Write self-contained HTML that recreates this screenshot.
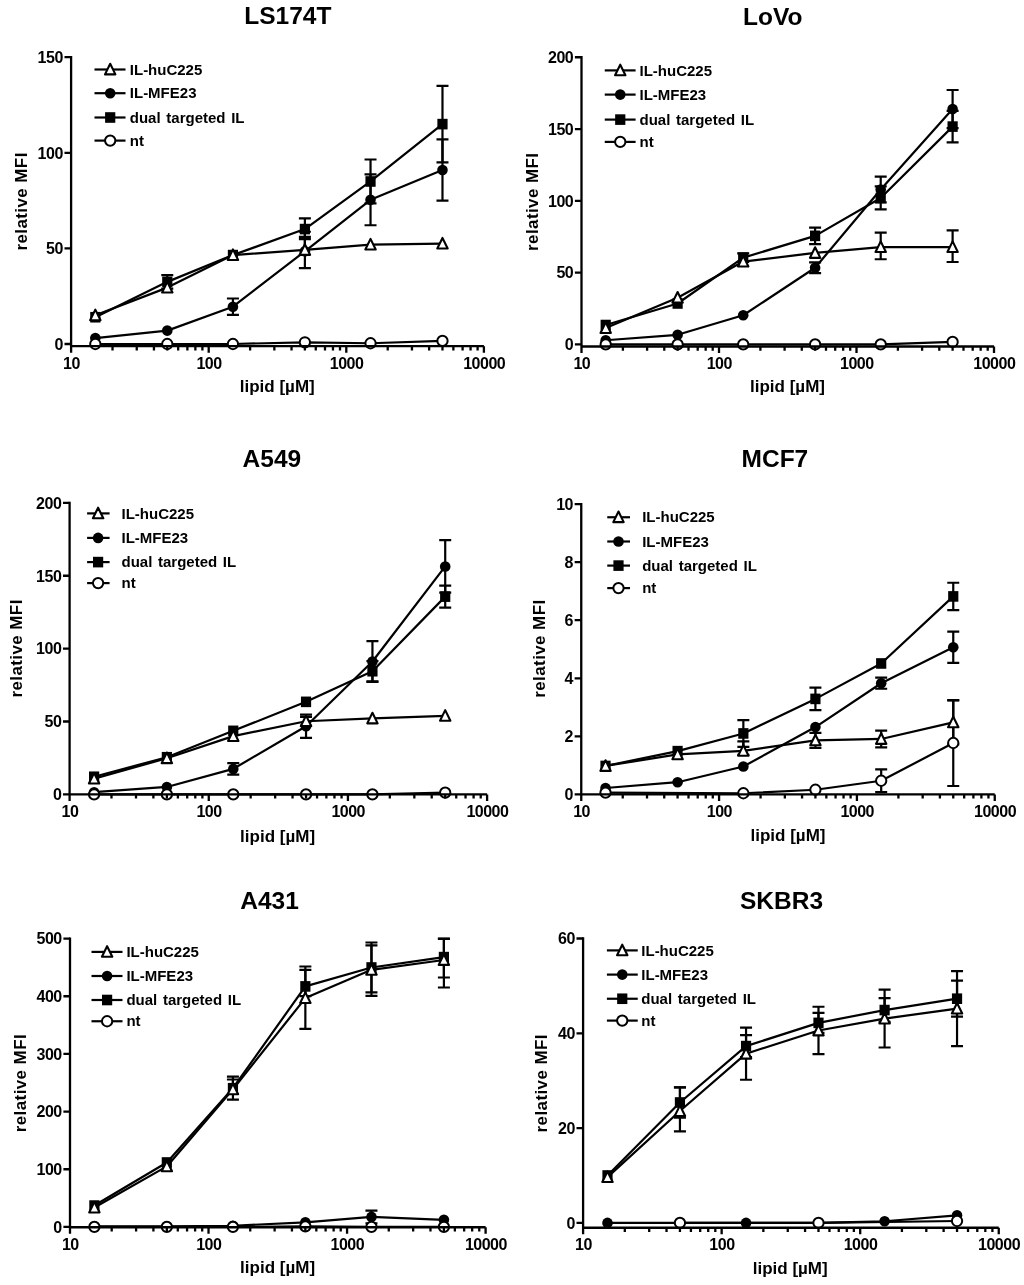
<!DOCTYPE html>
<html><head><meta charset="utf-8"><style>html,body{margin:0;padding:0;background:#fff;}svg{display:block;filter:grayscale(1);}</style></head>
<body><svg width="1024" height="1285" viewBox="0 0 1024 1285">
<rect width="1024" height="1285" fill="#fff"/>
<path d="M95.33,317.23 L167.28,281.86 L232.93,255.09 L304.88,229.09 L370.53,181.48 L442.48,124.12" fill="none" stroke="#000" stroke-width="2.2" stroke-linejoin="round"/>
<path d="M95.33,338.07 L167.28,330.62 L232.93,306.72 L304.88,251.27 L370.53,199.84 L442.48,170.01" fill="none" stroke="#000" stroke-width="2.2" stroke-linejoin="round"/>
<path d="M95.33,315.32 L167.28,287.60 L232.93,255.09 L304.88,249.93 L370.53,244.58 L442.48,243.62" fill="none" stroke="#000" stroke-width="2.2" stroke-linejoin="round"/>
<path d="M95.33,344.00 L167.28,344.00 L232.93,344.00 L304.88,342.28 L370.53,343.24 L442.48,340.94" fill="none" stroke="#000" stroke-width="2.2" stroke-linejoin="round"/>
<path d="M167.28,275.17 L167.28,288.55 M161.28,275.17 L173.28,275.17 M161.28,288.55 L173.28,288.55" fill="none" stroke="#000" stroke-width="2.2"/>
<path d="M232.93,253.18 L232.93,257.00" fill="none" stroke="#000" stroke-width="2.2"/>
<path d="M304.88,218.38 L304.88,239.22 M298.88,218.38 L310.88,218.38 M298.88,239.22 L310.88,239.22" fill="none" stroke="#000" stroke-width="2.2"/>
<path d="M370.53,159.49 L370.53,203.47 M364.53,159.49 L376.53,159.49 M364.53,203.47 L376.53,203.47" fill="none" stroke="#000" stroke-width="2.2"/>
<path d="M442.48,85.88 L442.48,162.36 M436.48,85.88 L448.48,85.88 M436.48,162.36 L448.48,162.36" fill="none" stroke="#000" stroke-width="2.2"/>
<path d="M167.28,329.66 L167.28,331.57" fill="none" stroke="#000" stroke-width="2.2"/>
<path d="M232.93,298.49 L232.93,314.94 M226.93,298.49 L238.93,298.49 M226.93,314.94 L238.93,314.94" fill="none" stroke="#000" stroke-width="2.2"/>
<path d="M304.88,236.93 L304.88,255.09 M298.88,236.93 L310.88,236.93" fill="none" stroke="#000" stroke-width="2.2"/>
<path d="M370.53,174.41 L370.53,225.26 M364.53,174.41 L376.53,174.41 M364.53,225.26 L376.53,225.26" fill="none" stroke="#000" stroke-width="2.2"/>
<path d="M442.48,139.42 L442.48,200.60 M436.48,139.42 L448.48,139.42 M436.48,200.60 L448.48,200.60" fill="none" stroke="#000" stroke-width="2.2"/>
<path d="M167.28,284.73 L167.28,290.46" fill="none" stroke="#000" stroke-width="2.2"/>
<path d="M232.93,253.18 L232.93,257.00" fill="none" stroke="#000" stroke-width="2.2"/>
<path d="M304.88,231.77 L304.88,268.09 M298.88,231.77 L310.88,231.77 M298.88,268.09 L310.88,268.09" fill="none" stroke="#000" stroke-width="2.2"/>
<path d="M370.53,242.66 L370.53,246.49" fill="none" stroke="#000" stroke-width="2.2"/>
<path d="M442.48,241.71 L442.48,245.53" fill="none" stroke="#000" stroke-width="2.2"/>
<rect x="90.23" y="311.93" width="10.2" height="10.6" fill="#000"/>
<rect x="162.18" y="276.56" width="10.2" height="10.6" fill="#000"/>
<rect x="227.83" y="249.79" width="10.2" height="10.6" fill="#000"/>
<rect x="299.78" y="223.79" width="10.2" height="10.6" fill="#000"/>
<rect x="365.43" y="176.18" width="10.2" height="10.6" fill="#000"/>
<rect x="437.38" y="118.82" width="10.2" height="10.6" fill="#000"/>
<circle cx="95.33" cy="338.07" r="5.3" fill="#000"/>
<circle cx="167.28" cy="330.62" r="5.3" fill="#000"/>
<circle cx="232.93" cy="306.72" r="5.3" fill="#000"/>
<circle cx="304.88" cy="251.27" r="5.3" fill="#000"/>
<circle cx="370.53" cy="199.84" r="5.3" fill="#000"/>
<circle cx="442.48" cy="170.01" r="5.3" fill="#000"/>
<path d="M95.33,309.62 L100.53,320.22 L90.13,320.22 Z" fill="#fff" stroke="#000" stroke-width="2.1" stroke-linejoin="round"/>
<path d="M167.28,281.90 L172.48,292.50 L162.08,292.50 Z" fill="#fff" stroke="#000" stroke-width="2.1" stroke-linejoin="round"/>
<path d="M232.93,249.39 L238.13,259.99 L227.73,259.99 Z" fill="#fff" stroke="#000" stroke-width="2.1" stroke-linejoin="round"/>
<path d="M304.88,244.23 L310.08,254.83 L299.68,254.83 Z" fill="#fff" stroke="#000" stroke-width="2.1" stroke-linejoin="round"/>
<path d="M370.53,238.88 L375.73,249.48 L365.33,249.48 Z" fill="#fff" stroke="#000" stroke-width="2.1" stroke-linejoin="round"/>
<path d="M442.48,237.92 L447.68,248.52 L437.28,248.52 Z" fill="#fff" stroke="#000" stroke-width="2.1" stroke-linejoin="round"/>
<circle cx="95.33" cy="344.00" r="5.15" fill="#fff" stroke="#000" stroke-width="2"/>
<circle cx="167.28" cy="344.00" r="5.15" fill="#fff" stroke="#000" stroke-width="2"/>
<circle cx="232.93" cy="344.00" r="5.15" fill="#fff" stroke="#000" stroke-width="2"/>
<circle cx="304.88" cy="342.28" r="5.15" fill="#fff" stroke="#000" stroke-width="2"/>
<circle cx="370.53" cy="343.24" r="5.15" fill="#fff" stroke="#000" stroke-width="2"/>
<circle cx="442.48" cy="340.94" r="5.15" fill="#fff" stroke="#000" stroke-width="2"/>
<path d="M71.10,56.05 L71.10,352.70" stroke="#000" stroke-width="2.3" fill="none"/>
<path d="M71.10,346.20 L483.90,346.20" stroke="#000" stroke-width="2.3" fill="none"/>
<path d="M112.52,346.20 L112.52,350.40 M136.75,346.20 L136.75,350.40 M153.94,346.20 L153.94,350.40 M167.28,346.20 L167.28,350.40 M178.17,346.20 L178.17,350.40 M187.39,346.20 L187.39,350.40 M195.37,346.20 L195.37,350.40 M202.40,346.20 L202.40,350.40 M250.12,346.20 L250.12,350.40 M274.35,346.20 L274.35,350.40 M291.54,346.20 L291.54,350.40 M304.88,346.20 L304.88,350.40 M315.77,346.20 L315.77,350.40 M324.99,346.20 L324.99,350.40 M332.97,346.20 L332.97,350.40 M340.00,346.20 L340.00,350.40 M387.72,346.20 L387.72,350.40 M411.95,346.20 L411.95,350.40 M429.14,346.20 L429.14,350.40 M442.48,346.20 L442.48,350.40 M453.37,346.20 L453.37,350.40 M462.59,346.20 L462.59,350.40 M470.57,346.20 L470.57,350.40 M477.60,346.20 L477.60,350.40 M208.70,346.20 L208.70,352.70 M346.30,346.20 L346.30,352.70 M483.90,346.20 L483.90,352.70" stroke="#000" stroke-width="2.3" fill="none"/>
<path d="M64.50,344.00 L71.10,344.00 M64.50,248.40 L71.10,248.40 M64.50,152.80 L71.10,152.80 M64.50,57.20 L71.10,57.20" stroke="#000" stroke-width="2.3" fill="none"/>
<text x="62.80" y="349.80" font-family="Liberation Sans, sans-serif" font-weight="bold" font-size="16" letter-spacing="-0.5" text-anchor="end">0</text>
<text x="62.80" y="254.20" font-family="Liberation Sans, sans-serif" font-weight="bold" font-size="16" letter-spacing="-0.5" text-anchor="end">50</text>
<text x="62.80" y="158.60" font-family="Liberation Sans, sans-serif" font-weight="bold" font-size="16" letter-spacing="-0.5" text-anchor="end">100</text>
<text x="62.80" y="63.00" font-family="Liberation Sans, sans-serif" font-weight="bold" font-size="16" letter-spacing="-0.5" text-anchor="end">150</text>
<text x="71.40" y="368.60" font-family="Liberation Sans, sans-serif" font-weight="bold" font-size="16" letter-spacing="-0.5" text-anchor="middle">10</text>
<text x="209.00" y="368.60" font-family="Liberation Sans, sans-serif" font-weight="bold" font-size="16" letter-spacing="-0.5" text-anchor="middle">100</text>
<text x="346.60" y="368.60" font-family="Liberation Sans, sans-serif" font-weight="bold" font-size="16" letter-spacing="-0.5" text-anchor="middle">1000</text>
<text x="484.20" y="368.60" font-family="Liberation Sans, sans-serif" font-weight="bold" font-size="16" letter-spacing="-0.5" text-anchor="middle">10000</text>
<text x="287.80" y="24.40" font-family="Liberation Sans, sans-serif" font-weight="bold" font-size="24.5" text-anchor="middle">LS174T</text>
<text transform="translate(27.40,201.40) rotate(-90)" x="0" y="0" font-family="Liberation Sans, sans-serif" font-weight="bold" font-size="17" letter-spacing="0.4" text-anchor="middle">relative MFI</text>
<text x="277.25" y="392.00" font-family="Liberation Sans, sans-serif" font-weight="bold" font-size="17" text-anchor="middle">lipid [µM]</text>
<path d="M94.50,69.50 L125.50,69.50" stroke="#000" stroke-width="2.2"/>
<path d="M110.20,63.80 L115.40,74.40 L105.00,74.40 Z" fill="#fff" stroke="#000" stroke-width="2.1" stroke-linejoin="round"/>
<text x="129.80" y="74.70" font-family="Liberation Sans, sans-serif" font-weight="bold" font-size="15" word-spacing="1.5">IL-huC225</text>
<path d="M94.50,93.20 L125.50,93.20" stroke="#000" stroke-width="2.2"/>
<circle cx="110.20" cy="93.20" r="5.3" fill="#000"/>
<text x="129.80" y="98.40" font-family="Liberation Sans, sans-serif" font-weight="bold" font-size="15" word-spacing="1.5">IL-MFE23</text>
<path d="M94.50,117.50 L125.50,117.50" stroke="#000" stroke-width="2.2"/>
<rect x="105.10" y="112.20" width="10.2" height="10.6" fill="#000"/>
<text x="129.80" y="122.70" font-family="Liberation Sans, sans-serif" font-weight="bold" font-size="15" word-spacing="1.5">dual targeted IL</text>
<path d="M94.50,140.60 L125.50,140.60" stroke="#000" stroke-width="2.2"/>
<circle cx="110.20" cy="140.60" r="5.15" fill="#fff" stroke="#000" stroke-width="2"/>
<text x="129.80" y="145.80" font-family="Liberation Sans, sans-serif" font-weight="bold" font-size="15" word-spacing="1.5">nt</text>
<path d="M605.71,325.02 L677.61,303.48 L743.21,257.68 L815.11,235.86 L880.71,197.95 L952.61,126.60" fill="none" stroke="#000" stroke-width="2.2" stroke-linejoin="round"/>
<path d="M605.71,340.24 L677.61,334.78 L743.21,315.25 L815.11,267.73 L880.71,189.48 L952.61,109.08" fill="none" stroke="#000" stroke-width="2.2" stroke-linejoin="round"/>
<path d="M605.71,328.03 L677.61,297.74 L743.21,261.56 L815.11,252.94 L880.71,247.06 L952.61,247.06" fill="none" stroke="#000" stroke-width="2.2" stroke-linejoin="round"/>
<path d="M605.71,344.40 L677.61,344.40 L743.21,344.40 L815.11,344.40 L880.71,344.40 L952.61,341.96" fill="none" stroke="#000" stroke-width="2.2" stroke-linejoin="round"/>
<path d="M605.71,323.58 L605.71,326.45" fill="none" stroke="#000" stroke-width="2.2"/>
<path d="M677.61,302.05 L677.61,304.92" fill="none" stroke="#000" stroke-width="2.2"/>
<path d="M743.21,253.37 L743.21,261.99 M737.21,253.37 L749.21,253.37 M737.21,261.99 L749.21,261.99" fill="none" stroke="#000" stroke-width="2.2"/>
<path d="M815.11,227.53 L815.11,244.18 M809.11,227.53 L821.11,227.53 M809.11,244.18 L821.11,244.18" fill="none" stroke="#000" stroke-width="2.2"/>
<path d="M880.71,186.47 L880.71,209.44 M874.71,186.47 L886.71,186.47 M874.71,209.44 L886.71,209.44" fill="none" stroke="#000" stroke-width="2.2"/>
<path d="M952.61,110.80 L952.61,142.39 M946.61,110.80 L958.61,110.80 M946.61,142.39 L958.61,142.39" fill="none" stroke="#000" stroke-width="2.2"/>
<path d="M743.21,313.82 L743.21,316.69" fill="none" stroke="#000" stroke-width="2.2"/>
<path d="M815.11,262.42 L815.11,273.04 M809.11,262.42 L821.11,262.42 M809.11,273.04 L821.11,273.04" fill="none" stroke="#000" stroke-width="2.2"/>
<path d="M880.71,176.56 L880.71,202.40 M874.71,176.56 L886.71,176.56 M874.71,202.40 L886.71,202.40" fill="none" stroke="#000" stroke-width="2.2"/>
<path d="M952.61,89.99 L952.61,128.18 M946.61,89.99 L958.61,89.99 M946.61,128.18 L958.61,128.18" fill="none" stroke="#000" stroke-width="2.2"/>
<path d="M677.61,295.58 L677.61,299.89" fill="none" stroke="#000" stroke-width="2.2"/>
<path d="M743.21,258.69 L743.21,264.43" fill="none" stroke="#000" stroke-width="2.2"/>
<path d="M880.71,232.56 L880.71,259.26 M874.71,232.56 L886.71,232.56 M874.71,259.26 L886.71,259.26" fill="none" stroke="#000" stroke-width="2.2"/>
<path d="M952.61,230.40 L952.61,261.99 M946.61,230.40 L958.61,230.40 M946.61,261.99 L958.61,261.99" fill="none" stroke="#000" stroke-width="2.2"/>
<rect x="600.61" y="319.72" width="10.2" height="10.6" fill="#000"/>
<rect x="672.51" y="298.18" width="10.2" height="10.6" fill="#000"/>
<rect x="738.11" y="252.38" width="10.2" height="10.6" fill="#000"/>
<rect x="810.01" y="230.56" width="10.2" height="10.6" fill="#000"/>
<rect x="875.61" y="192.65" width="10.2" height="10.6" fill="#000"/>
<rect x="947.51" y="121.30" width="10.2" height="10.6" fill="#000"/>
<circle cx="605.71" cy="340.24" r="5.3" fill="#000"/>
<circle cx="677.61" cy="334.78" r="5.3" fill="#000"/>
<circle cx="743.21" cy="315.25" r="5.3" fill="#000"/>
<circle cx="815.11" cy="267.73" r="5.3" fill="#000"/>
<circle cx="880.71" cy="189.48" r="5.3" fill="#000"/>
<circle cx="952.61" cy="109.08" r="5.3" fill="#000"/>
<path d="M605.71,322.33 L610.91,332.93 L600.51,332.93 Z" fill="#fff" stroke="#000" stroke-width="2.1" stroke-linejoin="round"/>
<path d="M677.61,292.04 L682.81,302.64 L672.41,302.64 Z" fill="#fff" stroke="#000" stroke-width="2.1" stroke-linejoin="round"/>
<path d="M743.21,255.86 L748.41,266.46 L738.01,266.46 Z" fill="#fff" stroke="#000" stroke-width="2.1" stroke-linejoin="round"/>
<path d="M815.11,247.24 L820.31,257.84 L809.91,257.84 Z" fill="#fff" stroke="#000" stroke-width="2.1" stroke-linejoin="round"/>
<path d="M880.71,241.36 L885.91,251.96 L875.51,251.96 Z" fill="#fff" stroke="#000" stroke-width="2.1" stroke-linejoin="round"/>
<path d="M952.61,241.36 L957.81,251.96 L947.41,251.96 Z" fill="#fff" stroke="#000" stroke-width="2.1" stroke-linejoin="round"/>
<circle cx="605.71" cy="344.40" r="5.15" fill="#fff" stroke="#000" stroke-width="2"/>
<circle cx="677.61" cy="344.40" r="5.15" fill="#fff" stroke="#000" stroke-width="2"/>
<circle cx="743.21" cy="344.40" r="5.15" fill="#fff" stroke="#000" stroke-width="2"/>
<circle cx="815.11" cy="344.40" r="5.15" fill="#fff" stroke="#000" stroke-width="2"/>
<circle cx="880.71" cy="344.40" r="5.15" fill="#fff" stroke="#000" stroke-width="2"/>
<circle cx="952.61" cy="341.96" r="5.15" fill="#fff" stroke="#000" stroke-width="2"/>
<path d="M581.50,56.10 L581.50,353.00" stroke="#000" stroke-width="2.3" fill="none"/>
<path d="M581.50,346.50 L994.00,346.50" stroke="#000" stroke-width="2.3" fill="none"/>
<path d="M622.89,346.50 L622.89,350.70 M647.10,346.50 L647.10,350.70 M664.28,346.50 L664.28,350.70 M677.61,346.50 L677.61,350.70 M688.50,346.50 L688.50,350.70 M697.70,346.50 L697.70,350.70 M705.67,346.50 L705.67,350.70 M712.71,346.50 L712.71,350.70 M760.39,346.50 L760.39,350.70 M784.60,346.50 L784.60,350.70 M801.78,346.50 L801.78,350.70 M815.11,346.50 L815.11,350.70 M826.00,346.50 L826.00,350.70 M835.20,346.50 L835.20,350.70 M843.17,346.50 L843.17,350.70 M850.21,346.50 L850.21,350.70 M897.89,346.50 L897.89,350.70 M922.10,346.50 L922.10,350.70 M939.28,346.50 L939.28,350.70 M952.61,346.50 L952.61,350.70 M963.50,346.50 L963.50,350.70 M972.70,346.50 L972.70,350.70 M980.67,346.50 L980.67,350.70 M987.71,346.50 L987.71,350.70 M719.00,346.50 L719.00,353.00 M856.50,346.50 L856.50,353.00 M994.00,346.50 L994.00,353.00" stroke="#000" stroke-width="2.3" fill="none"/>
<path d="M574.90,344.40 L581.50,344.40 M574.90,272.61 L581.50,272.61 M574.90,200.82 L581.50,200.82 M574.90,129.04 L581.50,129.04 M574.90,57.25 L581.50,57.25" stroke="#000" stroke-width="2.3" fill="none"/>
<text x="573.20" y="350.20" font-family="Liberation Sans, sans-serif" font-weight="bold" font-size="16" letter-spacing="-0.5" text-anchor="end">0</text>
<text x="573.20" y="278.41" font-family="Liberation Sans, sans-serif" font-weight="bold" font-size="16" letter-spacing="-0.5" text-anchor="end">50</text>
<text x="573.20" y="206.62" font-family="Liberation Sans, sans-serif" font-weight="bold" font-size="16" letter-spacing="-0.5" text-anchor="end">100</text>
<text x="573.20" y="134.84" font-family="Liberation Sans, sans-serif" font-weight="bold" font-size="16" letter-spacing="-0.5" text-anchor="end">150</text>
<text x="573.20" y="63.05" font-family="Liberation Sans, sans-serif" font-weight="bold" font-size="16" letter-spacing="-0.5" text-anchor="end">200</text>
<text x="581.80" y="368.90" font-family="Liberation Sans, sans-serif" font-weight="bold" font-size="16" letter-spacing="-0.5" text-anchor="middle">10</text>
<text x="719.30" y="368.90" font-family="Liberation Sans, sans-serif" font-weight="bold" font-size="16" letter-spacing="-0.5" text-anchor="middle">100</text>
<text x="856.80" y="368.90" font-family="Liberation Sans, sans-serif" font-weight="bold" font-size="16" letter-spacing="-0.5" text-anchor="middle">1000</text>
<text x="994.30" y="368.90" font-family="Liberation Sans, sans-serif" font-weight="bold" font-size="16" letter-spacing="-0.5" text-anchor="middle">10000</text>
<text x="772.75" y="24.80" font-family="Liberation Sans, sans-serif" font-weight="bold" font-size="24.5" text-anchor="middle">LoVo</text>
<text transform="translate(537.80,201.80) rotate(-90)" x="0" y="0" font-family="Liberation Sans, sans-serif" font-weight="bold" font-size="17" letter-spacing="0.4" text-anchor="middle">relative MFI</text>
<text x="787.50" y="392.00" font-family="Liberation Sans, sans-serif" font-weight="bold" font-size="17" text-anchor="middle">lipid [µM]</text>
<path d="M604.75,70.40 L635.60,70.40" stroke="#000" stroke-width="2.2"/>
<path d="M620.25,64.70 L625.45,75.30 L615.05,75.30 Z" fill="#fff" stroke="#000" stroke-width="2.1" stroke-linejoin="round"/>
<text x="639.50" y="75.60" font-family="Liberation Sans, sans-serif" font-weight="bold" font-size="15" word-spacing="1.5">IL-huC225</text>
<path d="M604.75,94.60 L635.60,94.60" stroke="#000" stroke-width="2.2"/>
<circle cx="620.25" cy="94.60" r="5.3" fill="#000"/>
<text x="639.50" y="99.80" font-family="Liberation Sans, sans-serif" font-weight="bold" font-size="15" word-spacing="1.5">IL-MFE23</text>
<path d="M604.75,119.60 L635.60,119.60" stroke="#000" stroke-width="2.2"/>
<rect x="615.15" y="114.30" width="10.2" height="10.6" fill="#000"/>
<text x="639.50" y="124.80" font-family="Liberation Sans, sans-serif" font-weight="bold" font-size="15" word-spacing="1.5">dual targeted IL</text>
<path d="M604.75,141.90 L635.60,141.90" stroke="#000" stroke-width="2.2"/>
<circle cx="620.25" cy="141.90" r="5.15" fill="#fff" stroke="#000" stroke-width="2"/>
<text x="639.50" y="147.10" font-family="Liberation Sans, sans-serif" font-weight="bold" font-size="15" word-spacing="1.5">nt</text>
<path d="M94.11,776.76 L166.87,757.23 L233.27,730.85 L306.04,701.85 L372.44,671.24 L445.21,596.62" fill="none" stroke="#000" stroke-width="2.2" stroke-linejoin="round"/>
<path d="M94.11,792.21 L166.87,786.97 L233.27,768.89 L306.04,726.19 L372.44,661.48 L445.21,566.45" fill="none" stroke="#000" stroke-width="2.2" stroke-linejoin="round"/>
<path d="M94.11,778.66 L166.87,758.25 L233.27,736.10 L306.04,721.23 L372.44,718.46 L445.21,715.84" fill="none" stroke="#000" stroke-width="2.2" stroke-linejoin="round"/>
<path d="M94.11,794.40 L166.87,794.40 L233.27,794.40 L306.04,794.40 L372.44,794.40 L445.21,792.65" fill="none" stroke="#000" stroke-width="2.2" stroke-linejoin="round"/>
<path d="M166.87,755.78 L166.87,758.69" fill="none" stroke="#000" stroke-width="2.2"/>
<path d="M233.27,729.40 L233.27,732.31" fill="none" stroke="#000" stroke-width="2.2"/>
<path d="M306.04,699.66 L306.04,704.03" fill="none" stroke="#000" stroke-width="2.2"/>
<path d="M372.44,661.04 L372.44,681.44 M366.44,661.04 L378.44,661.04 M366.44,681.44 L378.44,681.44" fill="none" stroke="#000" stroke-width="2.2"/>
<path d="M445.21,585.69 L445.21,607.55 M439.21,585.69 L451.21,585.69 M439.21,607.55 L451.21,607.55" fill="none" stroke="#000" stroke-width="2.2"/>
<path d="M233.27,763.21 L233.27,774.58 M227.27,763.21 L239.27,763.21 M227.27,774.58 L239.27,774.58" fill="none" stroke="#000" stroke-width="2.2"/>
<path d="M306.04,714.53 L306.04,737.85 M300.04,714.53 L312.04,714.53 M300.04,737.85 L312.04,737.85" fill="none" stroke="#000" stroke-width="2.2"/>
<path d="M372.44,641.07 L372.44,681.88 M366.44,641.07 L378.44,641.07 M366.44,681.88 L378.44,681.88" fill="none" stroke="#000" stroke-width="2.2"/>
<path d="M445.21,540.21 L445.21,592.68 M439.21,540.21 L451.21,540.21 M439.21,592.68 L451.21,592.68" fill="none" stroke="#000" stroke-width="2.2"/>
<path d="M166.87,756.80 L166.87,759.71" fill="none" stroke="#000" stroke-width="2.2"/>
<path d="M233.27,733.18 L233.27,739.01" fill="none" stroke="#000" stroke-width="2.2"/>
<path d="M306.04,716.86 L306.04,725.61 M300.04,716.86 L312.04,716.86 M300.04,725.61 L312.04,725.61" fill="none" stroke="#000" stroke-width="2.2"/>
<path d="M372.44,717.01 L372.44,719.92" fill="none" stroke="#000" stroke-width="2.2"/>
<path d="M445.21,714.38 L445.21,717.30" fill="none" stroke="#000" stroke-width="2.2"/>
<rect x="89.01" y="771.46" width="10.2" height="10.6" fill="#000"/>
<rect x="161.77" y="751.93" width="10.2" height="10.6" fill="#000"/>
<rect x="228.17" y="725.55" width="10.2" height="10.6" fill="#000"/>
<rect x="300.94" y="696.55" width="10.2" height="10.6" fill="#000"/>
<rect x="367.34" y="665.94" width="10.2" height="10.6" fill="#000"/>
<rect x="440.11" y="591.32" width="10.2" height="10.6" fill="#000"/>
<circle cx="94.11" cy="792.21" r="5.3" fill="#000"/>
<circle cx="166.87" cy="786.97" r="5.3" fill="#000"/>
<circle cx="233.27" cy="768.89" r="5.3" fill="#000"/>
<circle cx="306.04" cy="726.19" r="5.3" fill="#000"/>
<circle cx="372.44" cy="661.48" r="5.3" fill="#000"/>
<circle cx="445.21" cy="566.45" r="5.3" fill="#000"/>
<path d="M94.11,772.96 L99.31,783.56 L88.91,783.56 Z" fill="#fff" stroke="#000" stroke-width="2.1" stroke-linejoin="round"/>
<path d="M166.87,752.55 L172.07,763.15 L161.67,763.15 Z" fill="#fff" stroke="#000" stroke-width="2.1" stroke-linejoin="round"/>
<path d="M233.27,730.40 L238.47,741.00 L228.07,741.00 Z" fill="#fff" stroke="#000" stroke-width="2.1" stroke-linejoin="round"/>
<path d="M306.04,715.53 L311.24,726.13 L300.84,726.13 Z" fill="#fff" stroke="#000" stroke-width="2.1" stroke-linejoin="round"/>
<path d="M372.44,712.76 L377.64,723.36 L367.24,723.36 Z" fill="#fff" stroke="#000" stroke-width="2.1" stroke-linejoin="round"/>
<path d="M445.21,710.14 L450.41,720.74 L440.01,720.74 Z" fill="#fff" stroke="#000" stroke-width="2.1" stroke-linejoin="round"/>
<circle cx="94.11" cy="794.40" r="5.15" fill="#fff" stroke="#000" stroke-width="2"/>
<circle cx="166.87" cy="794.40" r="5.15" fill="#fff" stroke="#000" stroke-width="2"/>
<circle cx="233.27" cy="794.40" r="5.15" fill="#fff" stroke="#000" stroke-width="2"/>
<circle cx="306.04" cy="794.40" r="5.15" fill="#fff" stroke="#000" stroke-width="2"/>
<circle cx="372.44" cy="794.40" r="5.15" fill="#fff" stroke="#000" stroke-width="2"/>
<circle cx="445.21" cy="792.65" r="5.15" fill="#fff" stroke="#000" stroke-width="2"/>
<path d="M69.60,501.75 L69.60,800.90" stroke="#000" stroke-width="2.3" fill="none"/>
<path d="M69.60,794.40 L487.10,794.40" stroke="#000" stroke-width="2.3" fill="none"/>
<path d="M111.49,794.40 L111.49,798.60 M136.00,794.40 L136.00,798.60 M153.39,794.40 L153.39,798.60 M166.87,794.40 L166.87,798.60 M177.89,794.40 L177.89,798.60 M187.21,794.40 L187.21,798.60 M195.28,794.40 L195.28,798.60 M202.40,794.40 L202.40,798.60 M250.66,794.40 L250.66,798.60 M275.17,794.40 L275.17,798.60 M292.55,794.40 L292.55,798.60 M306.04,794.40 L306.04,798.60 M317.06,794.40 L317.06,798.60 M326.38,794.40 L326.38,798.60 M334.45,794.40 L334.45,798.60 M341.57,794.40 L341.57,798.60 M389.83,794.40 L389.83,798.60 M414.33,794.40 L414.33,798.60 M431.72,794.40 L431.72,798.60 M445.21,794.40 L445.21,798.60 M456.23,794.40 L456.23,798.60 M465.54,794.40 L465.54,798.60 M473.61,794.40 L473.61,798.60 M480.73,794.40 L480.73,798.60 M208.77,794.40 L208.77,800.90 M347.93,794.40 L347.93,800.90 M487.10,794.40 L487.10,800.90" stroke="#000" stroke-width="2.3" fill="none"/>
<path d="M63.00,794.40 L69.60,794.40 M63.00,721.52 L69.60,721.52 M63.00,648.65 L69.60,648.65 M63.00,575.77 L69.60,575.77 M63.00,502.90 L69.60,502.90" stroke="#000" stroke-width="2.3" fill="none"/>
<text x="61.30" y="800.20" font-family="Liberation Sans, sans-serif" font-weight="bold" font-size="16" letter-spacing="-0.5" text-anchor="end">0</text>
<text x="61.30" y="727.32" font-family="Liberation Sans, sans-serif" font-weight="bold" font-size="16" letter-spacing="-0.5" text-anchor="end">50</text>
<text x="61.30" y="654.45" font-family="Liberation Sans, sans-serif" font-weight="bold" font-size="16" letter-spacing="-0.5" text-anchor="end">100</text>
<text x="61.30" y="581.57" font-family="Liberation Sans, sans-serif" font-weight="bold" font-size="16" letter-spacing="-0.5" text-anchor="end">150</text>
<text x="61.30" y="508.70" font-family="Liberation Sans, sans-serif" font-weight="bold" font-size="16" letter-spacing="-0.5" text-anchor="end">200</text>
<text x="69.90" y="816.80" font-family="Liberation Sans, sans-serif" font-weight="bold" font-size="16" letter-spacing="-0.5" text-anchor="middle">10</text>
<text x="209.07" y="816.80" font-family="Liberation Sans, sans-serif" font-weight="bold" font-size="16" letter-spacing="-0.5" text-anchor="middle">100</text>
<text x="348.23" y="816.80" font-family="Liberation Sans, sans-serif" font-weight="bold" font-size="16" letter-spacing="-0.5" text-anchor="middle">1000</text>
<text x="487.40" y="816.80" font-family="Liberation Sans, sans-serif" font-weight="bold" font-size="16" letter-spacing="-0.5" text-anchor="middle">10000</text>
<text x="271.88" y="467.20" font-family="Liberation Sans, sans-serif" font-weight="bold" font-size="24.5" text-anchor="middle">A549</text>
<text transform="translate(22.00,648.40) rotate(-90)" x="0" y="0" font-family="Liberation Sans, sans-serif" font-weight="bold" font-size="17" letter-spacing="0.4" text-anchor="middle">relative MFI</text>
<text x="277.60" y="842.00" font-family="Liberation Sans, sans-serif" font-weight="bold" font-size="17" text-anchor="middle">lipid [µM]</text>
<path d="M87.10,513.40 L109.60,513.40" stroke="#000" stroke-width="2.2"/>
<path d="M98.10,507.70 L103.30,518.30 L92.90,518.30 Z" fill="#fff" stroke="#000" stroke-width="2.1" stroke-linejoin="round"/>
<text x="121.50" y="518.60" font-family="Liberation Sans, sans-serif" font-weight="bold" font-size="15" word-spacing="1.5">IL-huC225</text>
<path d="M87.10,537.90 L109.60,537.90" stroke="#000" stroke-width="2.2"/>
<circle cx="98.10" cy="537.90" r="5.3" fill="#000"/>
<text x="121.50" y="543.10" font-family="Liberation Sans, sans-serif" font-weight="bold" font-size="15" word-spacing="1.5">IL-MFE23</text>
<path d="M87.10,562.10 L109.60,562.10" stroke="#000" stroke-width="2.2"/>
<rect x="93.00" y="556.80" width="10.2" height="10.6" fill="#000"/>
<text x="121.50" y="567.30" font-family="Liberation Sans, sans-serif" font-weight="bold" font-size="15" word-spacing="1.5">dual targeted IL</text>
<path d="M87.10,583.10 L109.60,583.10" stroke="#000" stroke-width="2.2"/>
<circle cx="98.10" cy="583.10" r="5.15" fill="#fff" stroke="#000" stroke-width="2"/>
<text x="121.50" y="588.30" font-family="Liberation Sans, sans-serif" font-weight="bold" font-size="15" word-spacing="1.5">nt</text>
<path d="M605.52,765.95 L677.59,751.15 L743.35,733.44 L815.42,698.89 L881.19,663.47 L953.26,596.42" fill="none" stroke="#000" stroke-width="2.2" stroke-linejoin="round"/>
<path d="M605.52,788.01 L677.59,782.21 L743.35,766.53 L815.42,727.05 L881.19,683.22 L953.26,647.22" fill="none" stroke="#000" stroke-width="2.2" stroke-linejoin="round"/>
<path d="M605.52,765.95 L677.59,754.34 L743.35,750.86 L815.42,740.40 L881.19,738.95 L953.26,722.41" fill="none" stroke="#000" stroke-width="2.2" stroke-linejoin="round"/>
<path d="M605.52,792.66 L743.35,793.24 L815.42,789.76 L881.19,780.76 L953.26,743.02" fill="none" stroke="#000" stroke-width="2.2" stroke-linejoin="round"/>
<path d="M605.52,765.08 L605.52,766.82" fill="none" stroke="#000" stroke-width="2.2"/>
<path d="M677.59,748.24 L677.59,754.05" fill="none" stroke="#000" stroke-width="2.2"/>
<path d="M743.35,720.08 L743.35,746.79 M737.35,720.08 L749.35,720.08 M737.35,746.79 L749.35,746.79" fill="none" stroke="#000" stroke-width="2.2"/>
<path d="M815.42,687.57 L815.42,710.21 M809.42,687.57 L821.42,687.57 M809.42,710.21 L821.42,710.21" fill="none" stroke="#000" stroke-width="2.2"/>
<path d="M881.19,662.02 L881.19,664.93" fill="none" stroke="#000" stroke-width="2.2"/>
<path d="M953.26,582.77 L953.26,610.06 M947.26,582.77 L959.26,582.77 M947.26,610.06 L959.26,610.06" fill="none" stroke="#000" stroke-width="2.2"/>
<path d="M815.42,724.15 L815.42,729.95" fill="none" stroke="#000" stroke-width="2.2"/>
<path d="M881.19,677.70 L881.19,688.73 M875.19,677.70 L887.19,677.70 M875.19,688.73 L887.19,688.73" fill="none" stroke="#000" stroke-width="2.2"/>
<path d="M953.26,631.54 L953.26,662.89 M947.26,631.54 L959.26,631.54 M947.26,662.89 L959.26,662.89" fill="none" stroke="#000" stroke-width="2.2"/>
<path d="M605.52,764.50 L605.52,767.40" fill="none" stroke="#000" stroke-width="2.2"/>
<path d="M677.59,751.44 L677.59,757.24" fill="none" stroke="#000" stroke-width="2.2"/>
<path d="M743.35,741.28 L743.35,754.92 M737.35,741.28 L749.35,741.28 M737.35,754.92 L749.35,754.92" fill="none" stroke="#000" stroke-width="2.2"/>
<path d="M815.42,732.86 L815.42,747.95 M809.42,732.86 L821.42,732.86 M809.42,747.95 L821.42,747.95" fill="none" stroke="#000" stroke-width="2.2"/>
<path d="M881.19,730.53 L881.19,747.37 M875.19,730.53 L887.19,730.53 M875.19,747.37 L887.19,747.37" fill="none" stroke="#000" stroke-width="2.2"/>
<path d="M953.26,700.34 L953.26,744.47 M947.26,700.34 L959.26,700.34 M947.26,744.47 L959.26,744.47" fill="none" stroke="#000" stroke-width="2.2"/>
<path d="M881.19,769.43 L881.19,792.08 M875.19,769.43 L887.19,769.43 M875.19,792.08 L887.19,792.08" fill="none" stroke="#000" stroke-width="2.2"/>
<path d="M953.26,700.05 L953.26,785.98 M947.26,700.05 L959.26,700.05 M947.26,785.98 L959.26,785.98" fill="none" stroke="#000" stroke-width="2.2"/>
<rect x="600.42" y="760.65" width="10.2" height="10.6" fill="#000"/>
<rect x="672.49" y="745.85" width="10.2" height="10.6" fill="#000"/>
<rect x="738.25" y="728.14" width="10.2" height="10.6" fill="#000"/>
<rect x="810.32" y="693.59" width="10.2" height="10.6" fill="#000"/>
<rect x="876.09" y="658.17" width="10.2" height="10.6" fill="#000"/>
<rect x="948.16" y="591.12" width="10.2" height="10.6" fill="#000"/>
<circle cx="605.52" cy="788.01" r="5.3" fill="#000"/>
<circle cx="677.59" cy="782.21" r="5.3" fill="#000"/>
<circle cx="743.35" cy="766.53" r="5.3" fill="#000"/>
<circle cx="815.42" cy="727.05" r="5.3" fill="#000"/>
<circle cx="881.19" cy="683.22" r="5.3" fill="#000"/>
<circle cx="953.26" cy="647.22" r="5.3" fill="#000"/>
<path d="M605.52,760.25 L610.72,770.85 L600.32,770.85 Z" fill="#fff" stroke="#000" stroke-width="2.1" stroke-linejoin="round"/>
<path d="M677.59,748.64 L682.79,759.24 L672.39,759.24 Z" fill="#fff" stroke="#000" stroke-width="2.1" stroke-linejoin="round"/>
<path d="M743.35,745.15 L748.55,755.75 L738.15,755.75 Z" fill="#fff" stroke="#000" stroke-width="2.1" stroke-linejoin="round"/>
<path d="M815.42,734.70 L820.62,745.30 L810.22,745.30 Z" fill="#fff" stroke="#000" stroke-width="2.1" stroke-linejoin="round"/>
<path d="M881.19,733.25 L886.39,743.85 L875.99,743.85 Z" fill="#fff" stroke="#000" stroke-width="2.1" stroke-linejoin="round"/>
<path d="M953.26,716.71 L958.46,727.31 L948.06,727.31 Z" fill="#fff" stroke="#000" stroke-width="2.1" stroke-linejoin="round"/>
<circle cx="605.52" cy="792.66" r="5.15" fill="#fff" stroke="#000" stroke-width="2"/>
<circle cx="743.35" cy="793.24" r="5.15" fill="#fff" stroke="#000" stroke-width="2"/>
<circle cx="815.42" cy="789.76" r="5.15" fill="#fff" stroke="#000" stroke-width="2"/>
<circle cx="881.19" cy="780.76" r="5.15" fill="#fff" stroke="#000" stroke-width="2"/>
<circle cx="953.26" cy="743.02" r="5.15" fill="#fff" stroke="#000" stroke-width="2"/>
<path d="M581.25,502.95 L581.25,800.90" stroke="#000" stroke-width="2.3" fill="none"/>
<path d="M581.25,794.40 L994.75,794.40" stroke="#000" stroke-width="2.3" fill="none"/>
<path d="M622.74,794.40 L622.74,798.60 M647.01,794.40 L647.01,798.60 M664.23,794.40 L664.23,798.60 M677.59,794.40 L677.59,798.60 M688.51,794.40 L688.51,798.60 M697.73,794.40 L697.73,798.60 M705.73,794.40 L705.73,798.60 M712.78,794.40 L712.78,798.60 M760.58,794.40 L760.58,798.60 M784.85,794.40 L784.85,798.60 M802.07,794.40 L802.07,798.60 M815.42,794.40 L815.42,798.60 M826.34,794.40 L826.34,798.60 M835.57,794.40 L835.57,798.60 M843.56,794.40 L843.56,798.60 M850.61,794.40 L850.61,798.60 M898.41,794.40 L898.41,798.60 M922.68,794.40 L922.68,798.60 M939.90,794.40 L939.90,798.60 M953.26,794.40 L953.26,798.60 M964.17,794.40 L964.17,798.60 M973.40,794.40 L973.40,798.60 M981.39,794.40 L981.39,798.60 M988.44,794.40 L988.44,798.60 M719.08,794.40 L719.08,800.90 M856.92,794.40 L856.92,800.90 M994.75,794.40 L994.75,800.90" stroke="#000" stroke-width="2.3" fill="none"/>
<path d="M574.65,794.40 L581.25,794.40 M574.65,736.34 L581.25,736.34 M574.65,678.28 L581.25,678.28 M574.65,620.22 L581.25,620.22 M574.65,562.16 L581.25,562.16 M574.65,504.10 L581.25,504.10" stroke="#000" stroke-width="2.3" fill="none"/>
<text x="572.95" y="800.20" font-family="Liberation Sans, sans-serif" font-weight="bold" font-size="16" letter-spacing="-0.5" text-anchor="end">0</text>
<text x="572.95" y="742.14" font-family="Liberation Sans, sans-serif" font-weight="bold" font-size="16" letter-spacing="-0.5" text-anchor="end">2</text>
<text x="572.95" y="684.08" font-family="Liberation Sans, sans-serif" font-weight="bold" font-size="16" letter-spacing="-0.5" text-anchor="end">4</text>
<text x="572.95" y="626.02" font-family="Liberation Sans, sans-serif" font-weight="bold" font-size="16" letter-spacing="-0.5" text-anchor="end">6</text>
<text x="572.95" y="567.96" font-family="Liberation Sans, sans-serif" font-weight="bold" font-size="16" letter-spacing="-0.5" text-anchor="end">8</text>
<text x="572.95" y="509.90" font-family="Liberation Sans, sans-serif" font-weight="bold" font-size="16" letter-spacing="-0.5" text-anchor="end">10</text>
<text x="581.55" y="816.80" font-family="Liberation Sans, sans-serif" font-weight="bold" font-size="16" letter-spacing="-0.5" text-anchor="middle">10</text>
<text x="719.38" y="816.80" font-family="Liberation Sans, sans-serif" font-weight="bold" font-size="16" letter-spacing="-0.5" text-anchor="middle">100</text>
<text x="857.22" y="816.80" font-family="Liberation Sans, sans-serif" font-weight="bold" font-size="16" letter-spacing="-0.5" text-anchor="middle">1000</text>
<text x="995.05" y="816.80" font-family="Liberation Sans, sans-serif" font-weight="bold" font-size="16" letter-spacing="-0.5" text-anchor="middle">10000</text>
<text x="774.90" y="467.00" font-family="Liberation Sans, sans-serif" font-weight="bold" font-size="24.5" text-anchor="middle">MCF7</text>
<text transform="translate(545.00,648.60) rotate(-90)" x="0" y="0" font-family="Liberation Sans, sans-serif" font-weight="bold" font-size="17" letter-spacing="0.4" text-anchor="middle">relative MFI</text>
<text x="788.00" y="841.00" font-family="Liberation Sans, sans-serif" font-weight="bold" font-size="17" text-anchor="middle">lipid [µM]</text>
<path d="M607.25,517.25 L630.00,517.25" stroke="#000" stroke-width="2.2"/>
<path d="M618.50,511.55 L623.70,522.15 L613.30,522.15 Z" fill="#fff" stroke="#000" stroke-width="2.1" stroke-linejoin="round"/>
<text x="642.20" y="522.45" font-family="Liberation Sans, sans-serif" font-weight="bold" font-size="15" word-spacing="1.5">IL-huC225</text>
<path d="M607.25,541.50 L630.00,541.50" stroke="#000" stroke-width="2.2"/>
<circle cx="618.50" cy="541.50" r="5.3" fill="#000"/>
<text x="642.20" y="546.70" font-family="Liberation Sans, sans-serif" font-weight="bold" font-size="15" word-spacing="1.5">IL-MFE23</text>
<path d="M607.25,565.60 L630.00,565.60" stroke="#000" stroke-width="2.2"/>
<rect x="613.40" y="560.30" width="10.2" height="10.6" fill="#000"/>
<text x="642.20" y="570.80" font-family="Liberation Sans, sans-serif" font-weight="bold" font-size="15" word-spacing="1.5">dual targeted IL</text>
<path d="M607.25,588.10 L630.00,588.10" stroke="#000" stroke-width="2.2"/>
<circle cx="618.50" cy="588.10" r="5.15" fill="#fff" stroke="#000" stroke-width="2"/>
<text x="642.20" y="593.30" font-family="Liberation Sans, sans-serif" font-weight="bold" font-size="15" word-spacing="1.5">nt</text>
<path d="M94.39,1205.57 L166.83,1162.49 L232.93,1088.23 L305.36,986.40 L371.46,967.49 L443.90,957.11" fill="none" stroke="#000" stroke-width="2.2" stroke-linejoin="round"/>
<path d="M94.39,1226.32 L166.83,1226.32 L232.93,1225.75 L305.36,1222.29 L371.46,1216.92 L443.90,1219.81" fill="none" stroke="#000" stroke-width="2.2" stroke-linejoin="round"/>
<path d="M94.39,1207.53 L166.83,1166.41 L232.93,1089.32 L305.36,998.11 L371.46,969.79 L443.90,959.99" fill="none" stroke="#000" stroke-width="2.2" stroke-linejoin="round"/>
<path d="M94.39,1226.90 L166.83,1226.90 L232.93,1226.90 L305.36,1226.32 L371.46,1226.90 L443.90,1226.90" fill="none" stroke="#000" stroke-width="2.2" stroke-linejoin="round"/>
<path d="M166.83,1160.76 L166.83,1164.22" fill="none" stroke="#000" stroke-width="2.2"/>
<path d="M232.93,1079.52 L232.93,1093.99 M226.93,1079.52 L238.93,1079.52 M226.93,1093.99 L238.93,1093.99" fill="none" stroke="#000" stroke-width="2.2"/>
<path d="M305.36,966.51 L305.36,996.20 M299.36,966.51 L311.36,966.51 M299.36,996.20 L311.36,996.20" fill="none" stroke="#000" stroke-width="2.2"/>
<path d="M371.46,942.52 L371.46,992.28 M365.46,942.52 L377.46,942.52 M365.46,992.28 L377.46,992.28" fill="none" stroke="#000" stroke-width="2.2"/>
<path d="M443.90,938.89 L443.90,977.52 M437.90,938.89 L449.90,938.89 M437.90,977.52 L449.90,977.52" fill="none" stroke="#000" stroke-width="2.2"/>
<path d="M371.46,1210.58 L371.46,1223.27 M365.46,1210.58 L377.46,1210.58 M365.46,1223.27 L377.46,1223.27" fill="none" stroke="#000" stroke-width="2.2"/>
<path d="M166.83,1164.11 L166.83,1168.72" fill="none" stroke="#000" stroke-width="2.2"/>
<path d="M232.93,1076.58 L232.93,1099.59 M226.93,1076.58 L238.93,1076.58 M226.93,1099.59 L238.93,1099.59" fill="none" stroke="#000" stroke-width="2.2"/>
<path d="M305.36,969.85 L305.36,1028.78 M299.36,969.85 L311.36,969.85 M299.36,1028.78 L311.36,1028.78" fill="none" stroke="#000" stroke-width="2.2"/>
<path d="M371.46,945.40 L371.46,995.80 M365.46,945.40 L377.46,945.40 M365.46,995.80 L377.46,995.80" fill="none" stroke="#000" stroke-width="2.2"/>
<path d="M443.90,938.60 L443.90,987.50 M437.90,938.60 L449.90,938.60 M437.90,987.50 L449.90,987.50" fill="none" stroke="#000" stroke-width="2.2"/>
<rect x="89.29" y="1200.27" width="10.2" height="10.6" fill="#000"/>
<rect x="161.73" y="1157.19" width="10.2" height="10.6" fill="#000"/>
<rect x="227.83" y="1082.93" width="10.2" height="10.6" fill="#000"/>
<rect x="300.26" y="981.10" width="10.2" height="10.6" fill="#000"/>
<rect x="366.36" y="962.19" width="10.2" height="10.6" fill="#000"/>
<rect x="438.80" y="951.81" width="10.2" height="10.6" fill="#000"/>
<circle cx="94.39" cy="1226.32" r="5.3" fill="#000"/>
<circle cx="166.83" cy="1226.32" r="5.3" fill="#000"/>
<circle cx="232.93" cy="1225.75" r="5.3" fill="#000"/>
<circle cx="305.36" cy="1222.29" r="5.3" fill="#000"/>
<circle cx="371.46" cy="1216.92" r="5.3" fill="#000"/>
<circle cx="443.90" cy="1219.81" r="5.3" fill="#000"/>
<path d="M94.39,1201.83 L99.59,1212.43 L89.19,1212.43 Z" fill="#fff" stroke="#000" stroke-width="2.1" stroke-linejoin="round"/>
<path d="M166.83,1160.71 L172.03,1171.31 L161.63,1171.31 Z" fill="#fff" stroke="#000" stroke-width="2.1" stroke-linejoin="round"/>
<path d="M232.93,1083.62 L238.13,1094.22 L227.73,1094.22 Z" fill="#fff" stroke="#000" stroke-width="2.1" stroke-linejoin="round"/>
<path d="M305.36,992.41 L310.56,1003.01 L300.16,1003.01 Z" fill="#fff" stroke="#000" stroke-width="2.1" stroke-linejoin="round"/>
<path d="M371.46,964.09 L376.66,974.69 L366.26,974.69 Z" fill="#fff" stroke="#000" stroke-width="2.1" stroke-linejoin="round"/>
<path d="M443.90,954.29 L449.10,964.89 L438.70,964.89 Z" fill="#fff" stroke="#000" stroke-width="2.1" stroke-linejoin="round"/>
<circle cx="94.39" cy="1226.90" r="5.15" fill="#fff" stroke="#000" stroke-width="2"/>
<circle cx="166.83" cy="1226.90" r="5.15" fill="#fff" stroke="#000" stroke-width="2"/>
<circle cx="232.93" cy="1226.90" r="5.15" fill="#fff" stroke="#000" stroke-width="2"/>
<circle cx="305.36" cy="1226.32" r="5.15" fill="#fff" stroke="#000" stroke-width="2"/>
<circle cx="371.46" cy="1226.90" r="5.15" fill="#fff" stroke="#000" stroke-width="2"/>
<circle cx="443.90" cy="1226.90" r="5.15" fill="#fff" stroke="#000" stroke-width="2"/>
<path d="M70.00,937.45 L70.00,1233.75" stroke="#000" stroke-width="2.3" fill="none"/>
<path d="M70.00,1227.25 L485.60,1227.25" stroke="#000" stroke-width="2.3" fill="none"/>
<path d="M111.70,1227.25 L111.70,1231.45 M136.10,1227.25 L136.10,1231.45 M153.41,1227.25 L153.41,1231.45 M166.83,1227.25 L166.83,1231.45 M177.80,1227.25 L177.80,1231.45 M187.07,1227.25 L187.07,1231.45 M195.11,1227.25 L195.11,1231.45 M202.19,1227.25 L202.19,1231.45 M250.24,1227.25 L250.24,1231.45 M274.63,1227.25 L274.63,1231.45 M291.94,1227.25 L291.94,1231.45 M305.36,1227.25 L305.36,1231.45 M316.33,1227.25 L316.33,1231.45 M325.61,1227.25 L325.61,1231.45 M333.64,1227.25 L333.64,1231.45 M340.73,1227.25 L340.73,1231.45 M388.77,1227.25 L388.77,1231.45 M413.16,1227.25 L413.16,1231.45 M430.47,1227.25 L430.47,1231.45 M443.90,1227.25 L443.90,1231.45 M454.87,1227.25 L454.87,1231.45 M464.14,1227.25 L464.14,1231.45 M472.17,1227.25 L472.17,1231.45 M479.26,1227.25 L479.26,1231.45 M208.53,1227.25 L208.53,1233.75 M347.07,1227.25 L347.07,1233.75 M485.60,1227.25 L485.60,1233.75" stroke="#000" stroke-width="2.3" fill="none"/>
<path d="M63.40,1226.90 L70.00,1226.90 M63.40,1169.24 L70.00,1169.24 M63.40,1111.58 L70.00,1111.58 M63.40,1053.92 L70.00,1053.92 M63.40,996.26 L70.00,996.26 M63.40,938.60 L70.00,938.60" stroke="#000" stroke-width="2.3" fill="none"/>
<text x="61.70" y="1232.70" font-family="Liberation Sans, sans-serif" font-weight="bold" font-size="16" letter-spacing="-0.5" text-anchor="end">0</text>
<text x="61.70" y="1175.04" font-family="Liberation Sans, sans-serif" font-weight="bold" font-size="16" letter-spacing="-0.5" text-anchor="end">100</text>
<text x="61.70" y="1117.38" font-family="Liberation Sans, sans-serif" font-weight="bold" font-size="16" letter-spacing="-0.5" text-anchor="end">200</text>
<text x="61.70" y="1059.72" font-family="Liberation Sans, sans-serif" font-weight="bold" font-size="16" letter-spacing="-0.5" text-anchor="end">300</text>
<text x="61.70" y="1002.06" font-family="Liberation Sans, sans-serif" font-weight="bold" font-size="16" letter-spacing="-0.5" text-anchor="end">400</text>
<text x="61.70" y="944.40" font-family="Liberation Sans, sans-serif" font-weight="bold" font-size="16" letter-spacing="-0.5" text-anchor="end">500</text>
<text x="70.30" y="1249.65" font-family="Liberation Sans, sans-serif" font-weight="bold" font-size="16" letter-spacing="-0.5" text-anchor="middle">10</text>
<text x="208.83" y="1249.65" font-family="Liberation Sans, sans-serif" font-weight="bold" font-size="16" letter-spacing="-0.5" text-anchor="middle">100</text>
<text x="347.37" y="1249.65" font-family="Liberation Sans, sans-serif" font-weight="bold" font-size="16" letter-spacing="-0.5" text-anchor="middle">1000</text>
<text x="485.90" y="1249.65" font-family="Liberation Sans, sans-serif" font-weight="bold" font-size="16" letter-spacing="-0.5" text-anchor="middle">10000</text>
<text x="269.50" y="909.10" font-family="Liberation Sans, sans-serif" font-weight="bold" font-size="24.5" text-anchor="middle">A431</text>
<text transform="translate(26.10,1083.10) rotate(-90)" x="0" y="0" font-family="Liberation Sans, sans-serif" font-weight="bold" font-size="17" letter-spacing="0.4" text-anchor="middle">relative MFI</text>
<text x="277.60" y="1273.30" font-family="Liberation Sans, sans-serif" font-weight="bold" font-size="17" text-anchor="middle">lipid [µM]</text>
<path d="M91.50,951.90 L122.50,951.90" stroke="#000" stroke-width="2.2"/>
<path d="M107.10,946.20 L112.30,956.80 L101.90,956.80 Z" fill="#fff" stroke="#000" stroke-width="2.1" stroke-linejoin="round"/>
<text x="126.40" y="957.10" font-family="Liberation Sans, sans-serif" font-weight="bold" font-size="15" word-spacing="1.5">IL-huC225</text>
<path d="M91.50,976.00 L122.50,976.00" stroke="#000" stroke-width="2.2"/>
<circle cx="107.10" cy="976.00" r="5.3" fill="#000"/>
<text x="126.40" y="981.20" font-family="Liberation Sans, sans-serif" font-weight="bold" font-size="15" word-spacing="1.5">IL-MFE23</text>
<path d="M91.50,1000.00 L122.50,1000.00" stroke="#000" stroke-width="2.2"/>
<rect x="102.00" y="994.70" width="10.2" height="10.6" fill="#000"/>
<text x="126.40" y="1005.20" font-family="Liberation Sans, sans-serif" font-weight="bold" font-size="15" word-spacing="1.5">dual targeted IL</text>
<path d="M91.50,1021.25 L122.50,1021.25" stroke="#000" stroke-width="2.2"/>
<circle cx="107.10" cy="1021.25" r="5.15" fill="#fff" stroke="#000" stroke-width="2"/>
<text x="126.40" y="1026.45" font-family="Liberation Sans, sans-serif" font-weight="bold" font-size="15" word-spacing="1.5">nt</text>
<path d="M607.50,1175.50 L679.94,1102.50 L746.05,1046.10 L818.49,1022.87 L884.60,1010.07 L957.04,998.70" fill="none" stroke="#000" stroke-width="2.2" stroke-linejoin="round"/>
<path d="M607.50,1222.90 L679.94,1222.90 L746.05,1222.90 L818.49,1222.90 L884.60,1221.24 L957.04,1215.32" fill="none" stroke="#000" stroke-width="2.2" stroke-linejoin="round"/>
<path d="M607.50,1177.16 L679.94,1111.04 L746.05,1053.68 L818.49,1030.46 L884.60,1018.61 L957.04,1008.65" fill="none" stroke="#000" stroke-width="2.2" stroke-linejoin="round"/>
<path d="M679.94,1222.90 L818.49,1222.90 L957.04,1221.00" fill="none" stroke="#000" stroke-width="2.2" stroke-linejoin="round"/>
<path d="M607.50,1173.13 L607.50,1177.87" fill="none" stroke="#000" stroke-width="2.2"/>
<path d="M679.94,1087.34 L679.94,1117.67 M673.94,1087.34 L685.94,1087.34 M673.94,1117.67 L685.94,1117.67" fill="none" stroke="#000" stroke-width="2.2"/>
<path d="M746.05,1035.20 L746.05,1057.00 M740.05,1035.20 L752.05,1035.20 M740.05,1057.00 L752.05,1057.00" fill="none" stroke="#000" stroke-width="2.2"/>
<path d="M818.49,1012.92 L818.49,1032.83 M812.49,1012.92 L824.49,1012.92 M812.49,1032.83 L824.49,1032.83" fill="none" stroke="#000" stroke-width="2.2"/>
<path d="M884.60,998.22 L884.60,1021.92 M878.60,998.22 L890.60,998.22 M878.60,1021.92 L890.60,1021.92" fill="none" stroke="#000" stroke-width="2.2"/>
<path d="M957.04,980.69 L957.04,1016.71 M951.04,980.69 L963.04,980.69 M951.04,1016.71 L963.04,1016.71" fill="none" stroke="#000" stroke-width="2.2"/>
<path d="M607.50,1174.79 L607.50,1179.53" fill="none" stroke="#000" stroke-width="2.2"/>
<path d="M679.94,1087.34 L679.94,1131.42 M673.94,1087.34 L685.94,1087.34 M673.94,1131.42 L685.94,1131.42" fill="none" stroke="#000" stroke-width="2.2"/>
<path d="M746.05,1027.61 L746.05,1079.75 M740.05,1027.61 L752.05,1027.61 M740.05,1079.75 L752.05,1079.75" fill="none" stroke="#000" stroke-width="2.2"/>
<path d="M818.49,1006.76 L818.49,1054.16 M812.49,1006.76 L824.49,1006.76 M812.49,1054.16 L824.49,1054.16" fill="none" stroke="#000" stroke-width="2.2"/>
<path d="M884.60,989.69 L884.60,1047.52 M878.60,989.69 L890.60,989.69 M878.60,1047.52 L890.60,1047.52" fill="none" stroke="#000" stroke-width="2.2"/>
<path d="M957.04,971.21 L957.04,1046.10 M951.04,971.21 L963.04,971.21 M951.04,1046.10 L963.04,1046.10" fill="none" stroke="#000" stroke-width="2.2"/>
<rect x="602.40" y="1170.20" width="10.2" height="10.6" fill="#000"/>
<rect x="674.84" y="1097.20" width="10.2" height="10.6" fill="#000"/>
<rect x="740.95" y="1040.80" width="10.2" height="10.6" fill="#000"/>
<rect x="813.39" y="1017.57" width="10.2" height="10.6" fill="#000"/>
<rect x="879.50" y="1004.77" width="10.2" height="10.6" fill="#000"/>
<rect x="951.94" y="993.40" width="10.2" height="10.6" fill="#000"/>
<circle cx="607.50" cy="1222.90" r="5.3" fill="#000"/>
<circle cx="679.94" cy="1222.90" r="5.3" fill="#000"/>
<circle cx="746.05" cy="1222.90" r="5.3" fill="#000"/>
<circle cx="818.49" cy="1222.90" r="5.3" fill="#000"/>
<circle cx="884.60" cy="1221.24" r="5.3" fill="#000"/>
<circle cx="957.04" cy="1215.32" r="5.3" fill="#000"/>
<path d="M607.50,1171.46 L612.70,1182.06 L602.30,1182.06 Z" fill="#fff" stroke="#000" stroke-width="2.1" stroke-linejoin="round"/>
<path d="M679.94,1105.34 L685.14,1115.94 L674.74,1115.94 Z" fill="#fff" stroke="#000" stroke-width="2.1" stroke-linejoin="round"/>
<path d="M746.05,1047.98 L751.25,1058.58 L740.85,1058.58 Z" fill="#fff" stroke="#000" stroke-width="2.1" stroke-linejoin="round"/>
<path d="M818.49,1024.76 L823.69,1035.36 L813.29,1035.36 Z" fill="#fff" stroke="#000" stroke-width="2.1" stroke-linejoin="round"/>
<path d="M884.60,1012.91 L889.80,1023.51 L879.40,1023.51 Z" fill="#fff" stroke="#000" stroke-width="2.1" stroke-linejoin="round"/>
<path d="M957.04,1002.95 L962.24,1013.55 L951.84,1013.55 Z" fill="#fff" stroke="#000" stroke-width="2.1" stroke-linejoin="round"/>
<circle cx="679.94" cy="1222.90" r="5.15" fill="#fff" stroke="#000" stroke-width="2"/>
<circle cx="818.49" cy="1222.90" r="5.15" fill="#fff" stroke="#000" stroke-width="2"/>
<circle cx="957.04" cy="1221.00" r="5.15" fill="#fff" stroke="#000" stroke-width="2"/>
<path d="M583.10,937.35 L583.10,1234.25" stroke="#000" stroke-width="2.3" fill="none"/>
<path d="M583.10,1227.75 L998.75,1227.75" stroke="#000" stroke-width="2.3" fill="none"/>
<path d="M624.81,1227.75 L624.81,1231.95 M649.21,1227.75 L649.21,1231.95 M666.52,1227.75 L666.52,1231.95 M679.94,1227.75 L679.94,1231.95 M690.91,1227.75 L690.91,1231.95 M700.19,1227.75 L700.19,1231.95 M708.22,1227.75 L708.22,1231.95 M715.31,1227.75 L715.31,1231.95 M763.36,1227.75 L763.36,1231.95 M787.76,1227.75 L787.76,1231.95 M805.07,1227.75 L805.07,1231.95 M818.49,1227.75 L818.49,1231.95 M829.46,1227.75 L829.46,1231.95 M838.74,1227.75 L838.74,1231.95 M846.77,1227.75 L846.77,1231.95 M853.86,1227.75 L853.86,1231.95 M901.91,1227.75 L901.91,1231.95 M926.31,1227.75 L926.31,1231.95 M943.62,1227.75 L943.62,1231.95 M957.04,1227.75 L957.04,1231.95 M968.01,1227.75 L968.01,1231.95 M977.29,1227.75 L977.29,1231.95 M985.32,1227.75 L985.32,1231.95 M992.41,1227.75 L992.41,1231.95 M721.65,1227.75 L721.65,1234.25 M860.20,1227.75 L860.20,1234.25 M998.75,1227.75 L998.75,1234.25" stroke="#000" stroke-width="2.3" fill="none"/>
<path d="M576.50,1222.90 L583.10,1222.90 M576.50,1128.10 L583.10,1128.10 M576.50,1033.30 L583.10,1033.30 M576.50,938.50 L583.10,938.50" stroke="#000" stroke-width="2.3" fill="none"/>
<text x="574.80" y="1228.70" font-family="Liberation Sans, sans-serif" font-weight="bold" font-size="16" letter-spacing="-0.5" text-anchor="end">0</text>
<text x="574.80" y="1133.90" font-family="Liberation Sans, sans-serif" font-weight="bold" font-size="16" letter-spacing="-0.5" text-anchor="end">20</text>
<text x="574.80" y="1039.10" font-family="Liberation Sans, sans-serif" font-weight="bold" font-size="16" letter-spacing="-0.5" text-anchor="end">40</text>
<text x="574.80" y="944.30" font-family="Liberation Sans, sans-serif" font-weight="bold" font-size="16" letter-spacing="-0.5" text-anchor="end">60</text>
<text x="583.40" y="1250.15" font-family="Liberation Sans, sans-serif" font-weight="bold" font-size="16" letter-spacing="-0.5" text-anchor="middle">10</text>
<text x="721.95" y="1250.15" font-family="Liberation Sans, sans-serif" font-weight="bold" font-size="16" letter-spacing="-0.5" text-anchor="middle">100</text>
<text x="860.50" y="1250.15" font-family="Liberation Sans, sans-serif" font-weight="bold" font-size="16" letter-spacing="-0.5" text-anchor="middle">1000</text>
<text x="999.05" y="1250.15" font-family="Liberation Sans, sans-serif" font-weight="bold" font-size="16" letter-spacing="-0.5" text-anchor="middle">10000</text>
<text x="781.55" y="909.00" font-family="Liberation Sans, sans-serif" font-weight="bold" font-size="24.5" text-anchor="middle">SKBR3</text>
<text transform="translate(547.10,1083.30) rotate(-90)" x="0" y="0" font-family="Liberation Sans, sans-serif" font-weight="bold" font-size="17" letter-spacing="0.4" text-anchor="middle">relative MFI</text>
<text x="790.20" y="1273.60" font-family="Liberation Sans, sans-serif" font-weight="bold" font-size="17" text-anchor="middle">lipid [µM]</text>
<path d="M606.90,950.40 L637.75,950.40" stroke="#000" stroke-width="2.2"/>
<path d="M622.25,944.70 L627.45,955.30 L617.05,955.30 Z" fill="#fff" stroke="#000" stroke-width="2.1" stroke-linejoin="round"/>
<text x="641.30" y="955.60" font-family="Liberation Sans, sans-serif" font-weight="bold" font-size="15" word-spacing="1.5">IL-huC225</text>
<path d="M606.90,974.60 L637.75,974.60" stroke="#000" stroke-width="2.2"/>
<circle cx="622.25" cy="974.60" r="5.3" fill="#000"/>
<text x="641.30" y="979.80" font-family="Liberation Sans, sans-serif" font-weight="bold" font-size="15" word-spacing="1.5">IL-MFE23</text>
<path d="M606.90,998.75 L637.75,998.75" stroke="#000" stroke-width="2.2"/>
<rect x="617.15" y="993.45" width="10.2" height="10.6" fill="#000"/>
<text x="641.30" y="1003.95" font-family="Liberation Sans, sans-serif" font-weight="bold" font-size="15" word-spacing="1.5">dual targeted IL</text>
<path d="M606.90,1020.60 L637.75,1020.60" stroke="#000" stroke-width="2.2"/>
<circle cx="622.25" cy="1020.60" r="5.15" fill="#fff" stroke="#000" stroke-width="2"/>
<text x="641.30" y="1025.80" font-family="Liberation Sans, sans-serif" font-weight="bold" font-size="15" word-spacing="1.5">nt</text>
</svg></body></html>
